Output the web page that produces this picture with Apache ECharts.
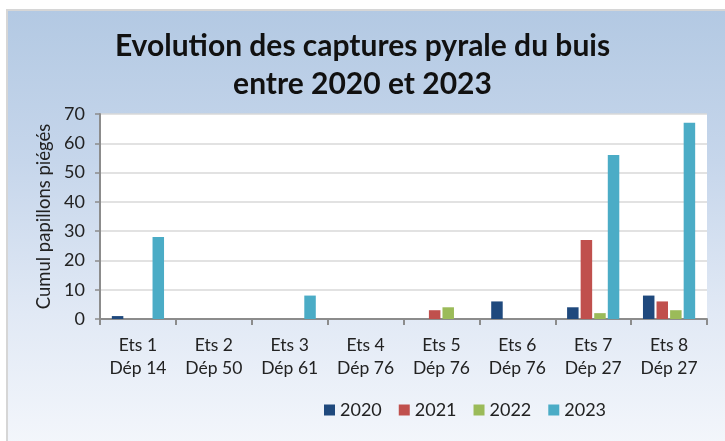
<!DOCTYPE html>
<html lang="fr">
<head>
<meta charset="utf-8">
<title>Evolution des captures pyrale du buis</title>
<script src="https://cdn.jsdelivr.net/npm/echarts@6/dist/echarts.min.js"></script>
<style>
  html, body { margin: 0; padding: 0; background: #fff; }
  #wrap { position: relative; width: 725px; height: 441px; overflow: hidden; }
  #bg {
    position: absolute; left: 6px; top: 9px; width: 719px; height: 432px;
    border-left: 2px solid #d6d6d6; border-top: 2px solid #d6d6d6;
    background: linear-gradient(to bottom, #b3c9e3 0%, #c6d6eb 35%, #e1e9f5 70%, #f3f6fb 100%);
  }
  #chart { position: absolute; left: 0; top: 0; width: 725px; height: 441px; }
</style>
</head>
<body>
<div id="wrap">
  <div id="bg"></div>
  <div id="chart"></div>
</div>
<script>
// catégories (établissement / département)
var categories = ['Ets 1\nDép 14', 'Ets 2\nDép 50', 'Ets 3\nDép 61', 'Ets 4\nDép 76',
                  'Ets 5\nDép 76', 'Ets 6\nDép 76', 'Ets 7\nDép 27', 'Ets 8\nDép 27'];
var years = ['2020', '2021', '2022', '2023'];
var v2020 = [1, 0, 0, 0, 0, 6, 4, 8];
var v2021 = [0, 0, 0, 0, 3, 0, 27, 6];
var v2022 = [0, 0, 0, 0, 4, 0, 2, 3];
var v2023 = [28, 0, 8, 0, 0, 0, 56, 67];
var colors = ['#1f497d', '#c0504d', '#9bbb59', '#4bacc6'];

var chart = echarts.init(document.getElementById('chart'), null, { renderer: 'canvas' });

function serie(name, data, i) {
  return {
    name: name,
    type: 'bar',
    data: data,
    barWidth: 11.5,
    barGap: '18%',
    itemStyle: { color: colors[i] },
    animation: false
  };
}

var option = {
  backgroundColor: 'transparent',
  textStyle: { fontFamily: 'Lato', color: '#222' },
  title: {
    text: 'Evolution des captures pyrale du buis\nentre 2020 et 2023',
    left: 'center',
    top: 22,
    textStyle: { fontFamily: 'Lato', fontWeight: 'bold', fontSize: 30, lineHeight: 38, color: '#111' }
  },
  legend: {
    data: years,
    left: 319,
    top: 396,
    itemWidth: 11,
    itemHeight: 11,
    itemGap: 17,
    icon: 'rect',
    textStyle: { fontFamily: 'Lato', fontSize: 18, color: '#222' }
  },
  grid: {
    left: 100, right: 18, top: 114, bottom: 122,
    show: true, backgroundColor: '#ffffff', borderWidth: 0
  },
  xAxis: {
    type: 'category',
    data: categories,
    axisLine: { lineStyle: { color: '#8c8c8c', width: 2 } },
    axisTick: { show: true, length: 6, lineStyle: { color: '#8c8c8c', width: 2 } },
    axisLabel: { fontFamily: 'Lato', fontSize: 17.5, lineHeight: 23, color: '#222', margin: 15 }
  },
  yAxis: {
    type: 'value',
    min: 0, max: 70, interval: 10,
    name: 'Cumul papillons piégés',
    nameLocation: 'middle',
    nameGap: 46,
    nameTextStyle: { fontFamily: 'Lato', fontSize: 18.5, color: '#222' },
    axisLine: { show: true, lineStyle: { color: '#8c8c8c', width: 2 } },
    axisTick: { show: true, length: 5, lineStyle: { color: '#8c8c8c', width: 1.5 } },
    axisLabel: { fontFamily: 'Lato', fontSize: 18, color: '#222', margin: 15 },
    splitLine: { lineStyle: { color: '#d9d9d9', width: 1.5 } }
  },
  series: [
    serie(years[0], v2020, 0),
    serie(years[1], v2021, 1),
    serie(years[2], v2022, 2),
    serie(years[3], v2023, 3)
  ]
};
chart.setOption(option);
</script>
</body>
</html>
